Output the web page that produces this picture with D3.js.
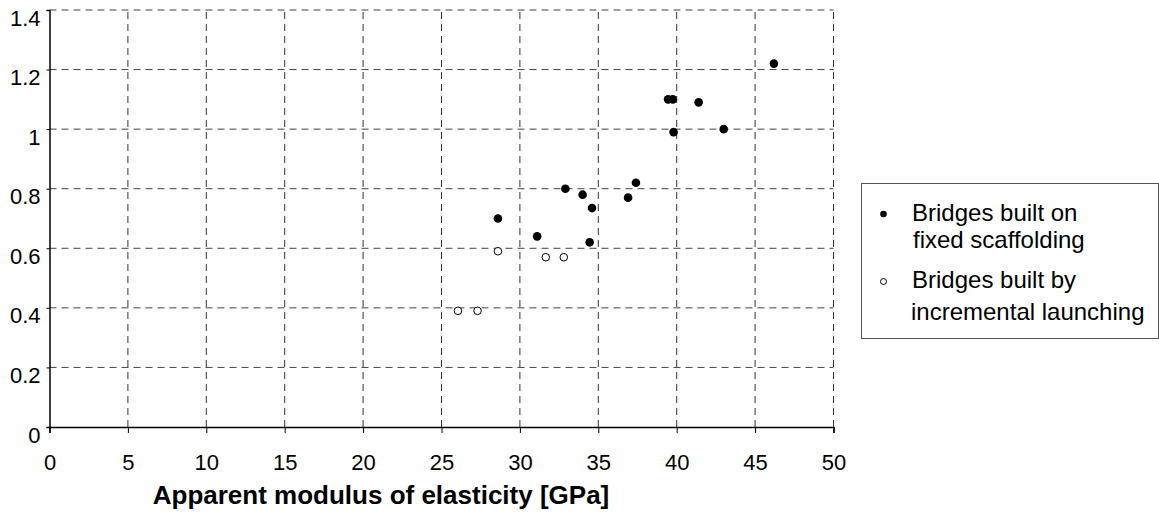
<!DOCTYPE html>
<html>
<head>
<meta charset="utf-8">
<script src="https://cdn.jsdelivr.net/npm/d3@7"></script>
<style>
  body { margin: 0; background: #fff; }
  text { font-family: "Liberation Sans", Arial, sans-serif; }
</style>
</head>
<body>
<div id="chart"></div>
<script>
// chart data
const xTicks = [0, 5, 10, 15, 20, 25, 30, 35, 40, 45, 50];
const yTicks = [0, 0.2, 0.4, 0.6, 0.8, 1, 1.2, 1.4];

// bridges built on fixed scaffolding (filled)
const fixedE = [28.6, 31.1, 32.9, 34.0, 34.6, 34.45, 36.9, 37.4, 39.45, 39.75, 39.8, 41.4, 43.0, 46.2];
const fixedR = [0.70, 0.64, 0.80, 0.78, 0.735, 0.62, 0.77, 0.82, 1.10, 1.10, 0.99, 1.09, 1.00, 1.22];

// bridges built by incremental launching (open)
const launchE = [26.05, 27.3, 28.6, 31.65, 32.8];
const launchR = [0.39, 0.39, 0.59, 0.57, 0.57];

const legendLines = [
    ["Bridges built on", "fixed scaffolding"],
    ["Bridges built by", "incremental launching"]
];
const xTitle = "Apparent modulus of elasticity [GPa]";

const width = 1159, height = 516;
const svg = d3.select("#chart").append("svg")
    .attr("width", width)
    .attr("height", height);

const x = d3.scaleLinear().domain([0, 50]).range([49.5, 833.5]);
const y = d3.scaleLinear().domain([0, 1.4]).range([427, 10]);

// dashed grid
svg.append("g").selectAll("line")
    .data(xTicks.slice(1))
    .enter().append("line")
    .attr("x1", d => x(d)).attr("x2", d => x(d))
    .attr("y1", y(0)).attr("y2", y(1.4))
    .attr("stroke", "#333")
    .attr("stroke-width", 1)
    .attr("stroke-dasharray", "7,5");

svg.append("g").selectAll("line")
    .data(yTicks.slice(1))
    .enter().append("line")
    .attr("x1", x(0)).attr("x2", x(50))
    .attr("y1", d => y(d)).attr("y2", d => y(d))
    .attr("stroke", "#444")
    .attr("stroke-width", 1)
    .attr("stroke-dasharray", "7,5");

// axes
const xAxis = svg.append("g")
    .attr("transform", `translate(0,${y(0)})`)
    .call(d3.axisBottom(x).tickValues(xTicks).tickSize(6).tickPadding(22).tickFormat(d3.format("d")));
xAxis.select(".domain").attr("stroke", "#000").attr("stroke-width", 1.5);
xAxis.selectAll(".tick line").attr("stroke", "#000");
xAxis.selectAll(".tick text")
    .attr("font-size", 22)
    .attr("font-family", "Liberation Sans, Arial, sans-serif")
    .attr("fill", "#000")
    .attr("dy", "0")
    .attr("y", 43);

const yAxis = svg.append("g")
    .attr("transform", `translate(${x(0)},0)`)
    .call(d3.axisLeft(y).tickValues(yTicks).tickSize(3).tickPadding(6)
        .tickFormat(d => String(+d.toFixed(1))));
yAxis.select(".domain").attr("stroke", "#000").attr("stroke-width", 1.5);
yAxis.selectAll(".tick line").attr("stroke", "#000");
yAxis.selectAll(".tick text")
    .attr("font-size", 22)
    .attr("font-family", "Liberation Sans, Arial, sans-serif")
    .attr("fill", "#000")
    .attr("dy", "0")
    .attr("y", 15);

// points
svg.append("g").selectAll("circle")
    .data(launchE.map((e, i) => [e, launchR[i]]))
    .enter().append("circle")
    .attr("cx", d => x(d[0]))
    .attr("cy", d => y(d[1]))
    .attr("r", 3.8)
    .attr("fill", "#fff")
    .attr("stroke", "#000")
    .attr("stroke-width", 1);

svg.append("g").selectAll("circle")
    .data(fixedE.map((e, i) => [e, fixedR[i]]))
    .enter().append("circle")
    .attr("cx", d => x(d[0]))
    .attr("cy", d => y(d[1]))
    .attr("r", 4.3)
    .attr("fill", "#000");

// x axis title
svg.append("text")
    .attr("x", 381)
    .attr("y", 504)
    .attr("text-anchor", "middle")
    .attr("font-size", 26)
    .attr("font-weight", "bold")
    .text(xTitle);

// legend
const legend = svg.append("g");
legend.append("rect")
    .attr("x", 861.5).attr("y", 183.5)
    .attr("width", 297).attr("height", 155)
    .attr("fill", "#fff")
    .attr("stroke", "#555")
    .attr("stroke-width", 1);

legend.append("circle")
    .attr("cx", 883.5).attr("cy", 214)
    .attr("r", 3.3).attr("fill", "#000");
legend.append("circle")
    .attr("cx", 883.5).attr("cy", 281.5)
    .attr("r", 3).attr("fill", "#fff")
    .attr("stroke", "#000").attr("stroke-width", 1);

const lineY = [[221, 248], [288, 320]];
const lineX = [[912, 913], [912, 911]];
legendLines.forEach((lines, i) => {
    lines.forEach((t, j) => {
        legend.append("text")
            .attr("x", lineX[i][j])
            .attr("y", lineY[i][j])
            .attr("font-size", 24)
            .attr("fill", "#000")
            .text(t);
    });
});
</script>
</body>
</html>
